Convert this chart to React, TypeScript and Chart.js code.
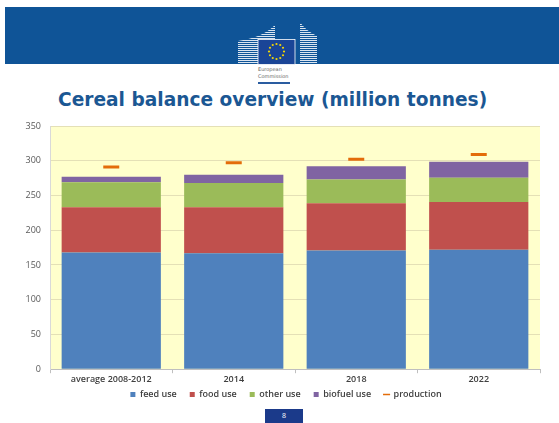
import React, { useEffect, useRef } from "react";
import { Chart, registerables } from "chart.js";

Chart.register(...registerables);

const categories = ["average 2008-2012", "2014", "2018", "2022"];
const feedUse = [168, 167, 171, 172];
const foodUse = [65, 66, 68, 68.5];
const otherUse = [36, 35, 34, 35];
const biofuelUse = [8, 12, 19, 23];
const production = [291, 297, 302, 309];
const yMax = 350;
const yStep = 50;

const plotBg = {
  id: "plotBg",
  beforeDraw(chart: any) {
    const { ctx, chartArea } = chart;
    if (!chartArea) return;
    ctx.save();
    ctx.fillStyle = "#FFFFCC";
    ctx.fillRect(chartArea.left, chartArea.top, chartArea.right - chartArea.left, chartArea.bottom - chartArea.top);
    ctx.restore();
  },
};

const legendShift = {
  id: "legendShift",
  afterLayout(chart: any) {
    const lg = chart.legend;
    if (lg) {
      lg.top -= 9;
      lg.bottom -= 9;
      lg.left += 16;
      lg.right += 16;
    }
  },
};

function Header() {
  const stripes: number[] = [];
  for (let y = 24; y <= 64; y += 2) stripes.push(y);
  const stars: Array<[number, number]> = [];
  for (let i = 0; i < 12; i++) {
    const a = (i * Math.PI) / 6;
    stars.push([276.5 + Math.cos(a) * 7.5, 51.5 + Math.sin(a) * 7.5]);
  }
  return (
    <svg width={559} height={90} style={{ position: "absolute", left: 0, top: 0 }}>
      <defs>
        <clipPath id="bl">
          <path d="M238,41 Q262,38 275,25 L275,64 L238,64 Z" />
        </clipPath>
        <clipPath id="br">
          <path d="M300,22 Q305,30 317,36 L317,64 L300,64 Z" />
        </clipPath>
      </defs>
      <rect x={5} y={7} width={554} height={57} fill="#0F5497" />
      <g clipPath="url(#bl)">
        {stripes.map((y) => (
          <rect key={"l" + y} x={236} y={y} width={42} height={1} fill="#ffffff" opacity={0.85} />
        ))}
      </g>
      <g clipPath="url(#br)">
        {stripes.map((y) => (
          <rect key={"r" + y} x={298} y={y} width={22} height={1} fill="#ffffff" opacity={0.85} />
        ))}
      </g>
      <rect x={258} y={39.5} width={37} height={25} fill="#1A4597" stroke="#ffffff" strokeWidth={0.8} />
      {stars.map(([x, y], i) => (
        <circle key={i} cx={x} cy={y} r={1.1} fill="#F5D800" />
      ))}
      <text x={258} y={71} fontSize={5} fill="#666666" fontFamily="DejaVu Sans">European</text>
      <text x={258} y={78} fontSize={5} fill="#666666" fontFamily="DejaVu Sans">Commission</text>
      <rect x={258} y={82} width={32} height={2} fill="#2A5CA0" />
    </svg>
  );
}

export default function App() {
  const ref = useRef<HTMLCanvasElement>(null);
  useEffect(() => {
    document.body.style.margin = "0";
    const chart = new Chart(ref.current as HTMLCanvasElement, {
      type: "bar",
      data: {
        labels: categories,
        datasets: [
          { type: "bar", label: "feed use", data: feedUse, backgroundColor: "#4F81BD", pointStyle: "rect", stack: "uses" } as any,
          { type: "bar", label: "food use", data: foodUse, backgroundColor: "#C0504D", pointStyle: "rect", stack: "uses" } as any,
          { type: "bar", label: "other use", data: otherUse, backgroundColor: "#9BBB59", pointStyle: "rect", stack: "uses" } as any,
          { type: "bar", label: "biofuel use", data: biofuelUse, backgroundColor: "#8064A2", pointStyle: "rect", stack: "uses" } as any,
          {
            type: "line",
            label: "production",
            data: production,
            stack: "prod",
            showLine: false,
            borderColor: "#E36C0A",
            backgroundColor: "#E36C0A",
            pointStyle: "line",
            pointRadius: 8,
            pointHoverRadius: 8,
            pointBorderWidth: 3,
            pointBorderColor: "#E36C0A",
            borderWidth: 2,
          } as any,
        ],
      },
      options: {
        animation: false,
        responsive: true,
        maintainAspectRatio: false,
        datasets: { bar: { barPercentage: 0.81, categoryPercentage: 1.0 } } as any,
        layout: { padding: { top: 16, right: 19, left: 0, bottom: 0 } },
        plugins: {
          tooltip: { enabled: false },
          title: { display: false },
          legend: {
            position: "bottom",
            labels: {
              usePointStyle: true,
              boxWidth: 5,
              boxHeight: 5,
              padding: 13,
              color: "#404040",
              font: { family: "'Open Sans'", size: 9, weight: "600" as any },
              generateLabels: (c: any) =>
                (Chart.defaults.plugins.legend.labels as any)
                  .generateLabels(c)
                  .map((l: any) => (l.pointStyle === "line" ? { ...l, lineWidth: 1.5 } : { ...l, lineWidth: 0 })),
            },
          },
        },
        scales: {
          x: {
            stacked: true,
            grid: { display: true, drawOnChartArea: false, drawTicks: true, tickLength: 4, color: "#BFBFBF", offset: true },
            border: { display: true, color: "#BFBFBF" },
            ticks: { padding: 1, color: "#404040", font: { family: "'Open Sans'", size: 9, weight: "600" as any } },
          },
          y: {
            stacked: true,
            min: 0,
            max: yMax,
            afterFit: (s: any) => {
              s.width = 50;
            },
            ticks: { stepSize: yStep, padding: 9, color: "#595959", font: { family: "'Open Sans'", size: 9 } },
            grid: { color: "#E4E0B6", drawTicks: false },
            border: { display: true, color: "#D9D9D9" },
          },
        },
      },
      plugins: [plotBg, legendShift],
    });
    return () => chart.destroy();
  }, []);

  return (
    <div style={{ position: "absolute", left: 0, top: 0, width: 559, height: 423, background: "#ffffff", overflow: "hidden" }}>
      <Header />
      <div
        style={{
          position: "absolute",
          left: 58,
          top: 89,
          whiteSpace: "nowrap",
          fontFamily: "'DejaVu Sans'",
          fontWeight: "bold",
          fontSize: 18.6,
          lineHeight: "22px",
          color: "#1B5793",
        }}
      >
        Cereal balance overview (million tonnes)
      </div>
      <div style={{ position: "absolute", left: 0, top: 110, width: 559, height: 308 }}>
        <canvas ref={ref} />
      </div>
      <div
        style={{
          position: "absolute",
          left: 265,
          top: 409,
          width: 38,
          height: 14,
          background: "#1B3A8A",
          color: "#ffffff",
          fontFamily: "'Open Sans'",
          fontSize: 7,
          lineHeight: "14px",
          textAlign: "center",
        }}
      >
        8
      </div>
    </div>
  );
}
